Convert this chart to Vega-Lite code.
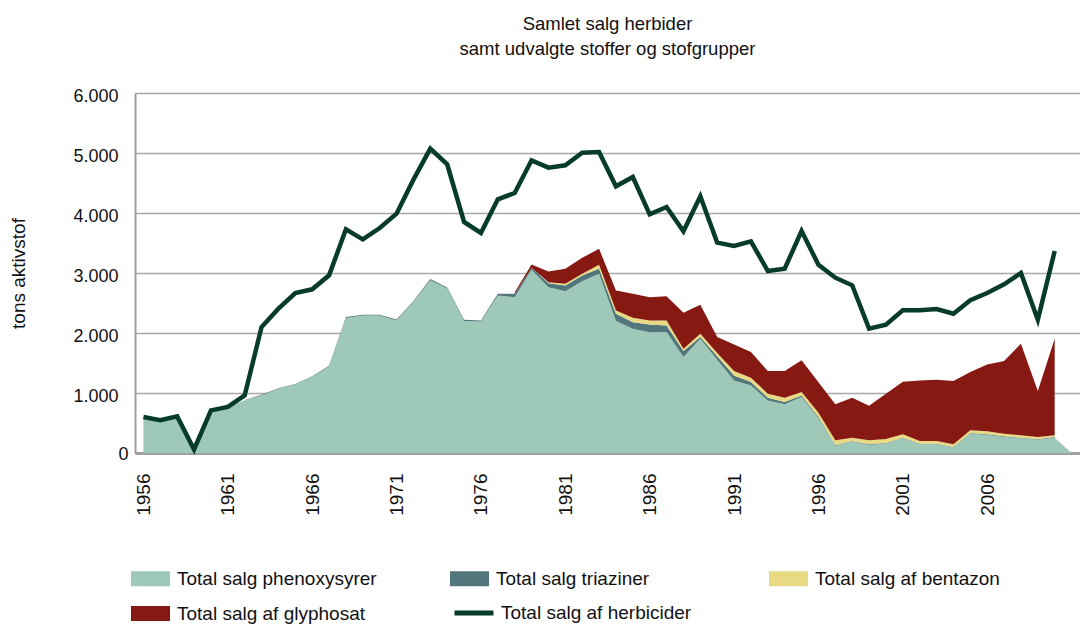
{
  "$schema": "https://vega.github.io/schema/vega-lite/v6.json",
  "autosize": "none",
  "width": 945,
  "height": 360,
  "padding": {"left": 135, "top": 93, "right": 0, "bottom": 171},
  "background": "white",
  "title": {
    "text": ["Samlet salg herbider", "samt udvalgte stoffer og stofgrupper"],
    "fontSize": 18.5,
    "fontWeight": "normal",
    "font": "Liberation Sans",
    "color": "#111111",
    "lineHeight": 25,
    "anchor": "middle",
    "offset": 29
  },
  "config": {
    "view": {"stroke": null},
    "font": "Liberation Sans",
    "legend": {"labelFont": "Liberation Sans", "labelFontSize": 19, "labelColor": "#111111", "padding": 0, "title": null, "labelLimit": 400}
  },
  "datasets": {
    "stoffer": [
      {"year": 1956, "serie": "Total salg phenoxysyrer", "value": 600},
      {"year": 1957, "serie": "Total salg phenoxysyrer", "value": 545},
      {"year": 1958, "serie": "Total salg phenoxysyrer", "value": 610},
      {"year": 1959, "serie": "Total salg phenoxysyrer", "value": 60},
      {"year": 1960, "serie": "Total salg phenoxysyrer", "value": 710},
      {"year": 1961, "serie": "Total salg phenoxysyrer", "value": 765},
      {"year": 1962, "serie": "Total salg phenoxysyrer", "value": 880},
      {"year": 1963, "serie": "Total salg phenoxysyrer", "value": 960},
      {"year": 1964, "serie": "Total salg phenoxysyrer", "value": 1070},
      {"year": 1965, "serie": "Total salg phenoxysyrer", "value": 1140},
      {"year": 1966, "serie": "Total salg phenoxysyrer", "value": 1270},
      {"year": 1967, "serie": "Total salg phenoxysyrer", "value": 1440},
      {"year": 1968, "serie": "Total salg phenoxysyrer", "value": 2250},
      {"year": 1969, "serie": "Total salg phenoxysyrer", "value": 2290},
      {"year": 1970, "serie": "Total salg phenoxysyrer", "value": 2290},
      {"year": 1971, "serie": "Total salg phenoxysyrer", "value": 2210},
      {"year": 1972, "serie": "Total salg phenoxysyrer", "value": 2520},
      {"year": 1973, "serie": "Total salg phenoxysyrer", "value": 2880},
      {"year": 1974, "serie": "Total salg phenoxysyrer", "value": 2740},
      {"year": 1975, "serie": "Total salg phenoxysyrer", "value": 2200},
      {"year": 1976, "serie": "Total salg phenoxysyrer", "value": 2190},
      {"year": 1977, "serie": "Total salg phenoxysyrer", "value": 2625},
      {"year": 1978, "serie": "Total salg phenoxysyrer", "value": 2597},
      {"year": 1979, "serie": "Total salg phenoxysyrer", "value": 3053},
      {"year": 1980, "serie": "Total salg phenoxysyrer", "value": 2764},
      {"year": 1981, "serie": "Total salg phenoxysyrer", "value": 2697},
      {"year": 1982, "serie": "Total salg phenoxysyrer", "value": 2864},
      {"year": 1983, "serie": "Total salg phenoxysyrer", "value": 2987},
      {"year": 1984, "serie": "Total salg phenoxysyrer", "value": 2198},
      {"year": 1985, "serie": "Total salg phenoxysyrer", "value": 2071},
      {"year": 1986, "serie": "Total salg phenoxysyrer", "value": 2014},
      {"year": 1987, "serie": "Total salg phenoxysyrer", "value": 2015},
      {"year": 1988, "serie": "Total salg phenoxysyrer", "value": 1598},
      {"year": 1989, "serie": "Total salg phenoxysyrer", "value": 1905},
      {"year": 1990, "serie": "Total salg phenoxysyrer", "value": 1555},
      {"year": 1991, "serie": "Total salg phenoxysyrer", "value": 1210},
      {"year": 1992, "serie": "Total salg phenoxysyrer", "value": 1127},
      {"year": 1993, "serie": "Total salg phenoxysyrer", "value": 877},
      {"year": 1994, "serie": "Total salg phenoxysyrer", "value": 811},
      {"year": 1995, "serie": "Total salg phenoxysyrer", "value": 932},
      {"year": 1996, "serie": "Total salg phenoxysyrer", "value": 580},
      {"year": 1997, "serie": "Total salg phenoxysyrer", "value": 118},
      {"year": 1998, "serie": "Total salg phenoxysyrer", "value": 190},
      {"year": 1999, "serie": "Total salg phenoxysyrer", "value": 135},
      {"year": 2000, "serie": "Total salg phenoxysyrer", "value": 157},
      {"year": 2001, "serie": "Total salg phenoxysyrer", "value": 246},
      {"year": 2002, "serie": "Total salg phenoxysyrer", "value": 146},
      {"year": 2003, "serie": "Total salg phenoxysyrer", "value": 146},
      {"year": 2004, "serie": "Total salg phenoxysyrer", "value": 90},
      {"year": 2005, "serie": "Total salg phenoxysyrer", "value": 323},
      {"year": 2006, "serie": "Total salg phenoxysyrer", "value": 301},
      {"year": 2007, "serie": "Total salg phenoxysyrer", "value": 268},
      {"year": 2008, "serie": "Total salg phenoxysyrer", "value": 246},
      {"year": 2009, "serie": "Total salg phenoxysyrer", "value": 223},
      {"year": 2010, "serie": "Total salg phenoxysyrer", "value": 256},
      {"year": 2011, "serie": "Total salg phenoxysyrer", "value": 0},
      {"year": 1962, "serie": "Total salg triaziner", "value": 5},
      {"year": 1963, "serie": "Total salg triaziner", "value": 10},
      {"year": 1964, "serie": "Total salg triaziner", "value": 10},
      {"year": 1965, "serie": "Total salg triaziner", "value": 10},
      {"year": 1966, "serie": "Total salg triaziner", "value": 10},
      {"year": 1967, "serie": "Total salg triaziner", "value": 15},
      {"year": 1968, "serie": "Total salg triaziner", "value": 15},
      {"year": 1969, "serie": "Total salg triaziner", "value": 15},
      {"year": 1970, "serie": "Total salg triaziner", "value": 15},
      {"year": 1971, "serie": "Total salg triaziner", "value": 15},
      {"year": 1972, "serie": "Total salg triaziner", "value": 15},
      {"year": 1973, "serie": "Total salg triaziner", "value": 20},
      {"year": 1974, "serie": "Total salg triaziner", "value": 20},
      {"year": 1975, "serie": "Total salg triaziner", "value": 20},
      {"year": 1976, "serie": "Total salg triaziner", "value": 20},
      {"year": 1977, "serie": "Total salg triaziner", "value": 28},
      {"year": 1978, "serie": "Total salg triaziner", "value": 56},
      {"year": 1979, "serie": "Total salg triaziner", "value": 33},
      {"year": 1980, "serie": "Total salg triaziner", "value": 66},
      {"year": 1981, "serie": "Total salg triaziner", "value": 94},
      {"year": 1982, "serie": "Total salg triaziner", "value": 94},
      {"year": 1983, "serie": "Total salg triaziner", "value": 83},
      {"year": 1984, "serie": "Total salg triaziner", "value": 122},
      {"year": 1985, "serie": "Total salg triaziner", "value": 110},
      {"year": 1986, "serie": "Total salg triaziner", "value": 128},
      {"year": 1987, "serie": "Total salg triaziner", "value": 111},
      {"year": 1988, "serie": "Total salg triaziner", "value": 100},
      {"year": 1989, "serie": "Total salg triaziner", "value": 28},
      {"year": 1990, "serie": "Total salg triaziner", "value": 56},
      {"year": 1991, "serie": "Total salg triaziner", "value": 83},
      {"year": 1992, "serie": "Total salg triaziner", "value": 55},
      {"year": 1993, "serie": "Total salg triaziner", "value": 44},
      {"year": 1994, "serie": "Total salg triaziner", "value": 39},
      {"year": 1995, "serie": "Total salg triaziner", "value": 28},
      {"year": 1996, "serie": "Total salg triaziner", "value": 20},
      {"year": 1997, "serie": "Total salg triaziner", "value": 10},
      {"year": 1998, "serie": "Total salg triaziner", "value": 10},
      {"year": 1999, "serie": "Total salg triaziner", "value": 10},
      {"year": 2000, "serie": "Total salg triaziner", "value": 10},
      {"year": 2001, "serie": "Total salg triaziner", "value": 10},
      {"year": 2002, "serie": "Total salg triaziner", "value": 10},
      {"year": 2003, "serie": "Total salg triaziner", "value": 10},
      {"year": 2004, "serie": "Total salg triaziner", "value": 10},
      {"year": 2005, "serie": "Total salg triaziner", "value": 10},
      {"year": 2006, "serie": "Total salg triaziner", "value": 10},
      {"year": 2007, "serie": "Total salg triaziner", "value": 10},
      {"year": 2008, "serie": "Total salg triaziner", "value": 10},
      {"year": 2009, "serie": "Total salg triaziner", "value": 10},
      {"year": 2010, "serie": "Total salg triaziner", "value": 10},
      {"year": 1980, "serie": "Total salg af bentazon", "value": 17},
      {"year": 1981, "serie": "Total salg af bentazon", "value": 28},
      {"year": 1982, "serie": "Total salg af bentazon", "value": 28},
      {"year": 1983, "serie": "Total salg af bentazon", "value": 66},
      {"year": 1984, "serie": "Total salg af bentazon", "value": 55},
      {"year": 1985, "serie": "Total salg af bentazon", "value": 72},
      {"year": 1986, "serie": "Total salg af bentazon", "value": 66},
      {"year": 1987, "serie": "Total salg af bentazon", "value": 83},
      {"year": 1988, "serie": "Total salg af bentazon", "value": 39},
      {"year": 1989, "serie": "Total salg af bentazon", "value": 56},
      {"year": 1990, "serie": "Total salg af bentazon", "value": 55},
      {"year": 1991, "serie": "Total salg af bentazon", "value": 72},
      {"year": 1992, "serie": "Total salg af bentazon", "value": 72},
      {"year": 1993, "serie": "Total salg af bentazon", "value": 67},
      {"year": 1994, "serie": "Total salg af bentazon", "value": 72},
      {"year": 1995, "serie": "Total salg af bentazon", "value": 56},
      {"year": 1996, "serie": "Total salg af bentazon", "value": 70},
      {"year": 1997, "serie": "Total salg af bentazon", "value": 83},
      {"year": 1998, "serie": "Total salg af bentazon", "value": 56},
      {"year": 1999, "serie": "Total salg af bentazon", "value": 67},
      {"year": 2000, "serie": "Total salg af bentazon", "value": 66},
      {"year": 2001, "serie": "Total salg af bentazon", "value": 55},
      {"year": 2002, "serie": "Total salg af bentazon", "value": 44},
      {"year": 2003, "serie": "Total salg af bentazon", "value": 44},
      {"year": 2004, "serie": "Total salg af bentazon", "value": 45},
      {"year": 2005, "serie": "Total salg af bentazon", "value": 45},
      {"year": 2006, "serie": "Total salg af bentazon", "value": 50},
      {"year": 2007, "serie": "Total salg af bentazon", "value": 44},
      {"year": 2008, "serie": "Total salg af bentazon", "value": 39},
      {"year": 2009, "serie": "Total salg af bentazon", "value": 33},
      {"year": 2010, "serie": "Total salg af bentazon", "value": 29},
      {"year": 1978, "serie": "Total salg af glyphosat", "value": 28},
      {"year": 1979, "serie": "Total salg af glyphosat", "value": 56},
      {"year": 1980, "serie": "Total salg af glyphosat", "value": 178},
      {"year": 1981, "serie": "Total salg af glyphosat", "value": 250},
      {"year": 1982, "serie": "Total salg af glyphosat", "value": 267},
      {"year": 1983, "serie": "Total salg af glyphosat", "value": 267},
      {"year": 1984, "serie": "Total salg af glyphosat", "value": 333},
      {"year": 1985, "serie": "Total salg af glyphosat", "value": 400},
      {"year": 1986, "serie": "Total salg af glyphosat", "value": 389},
      {"year": 1987, "serie": "Total salg af glyphosat", "value": 405},
      {"year": 1988, "serie": "Total salg af glyphosat", "value": 599},
      {"year": 1989, "serie": "Total salg af glyphosat", "value": 481},
      {"year": 1990, "serie": "Total salg af glyphosat", "value": 266},
      {"year": 1991, "serie": "Total salg af glyphosat", "value": 445},
      {"year": 1992, "serie": "Total salg af glyphosat", "value": 428},
      {"year": 1993, "serie": "Total salg af glyphosat", "value": 378},
      {"year": 1994, "serie": "Total salg af glyphosat", "value": 444},
      {"year": 1995, "serie": "Total salg af glyphosat", "value": 528},
      {"year": 1996, "serie": "Total salg af glyphosat", "value": 510},
      {"year": 1997, "serie": "Total salg af glyphosat", "value": 600},
      {"year": 1998, "serie": "Total salg af glyphosat", "value": 666},
      {"year": 1999, "serie": "Total salg af glyphosat", "value": 577},
      {"year": 2000, "serie": "Total salg af glyphosat", "value": 756},
      {"year": 2001, "serie": "Total salg af glyphosat", "value": 877},
      {"year": 2002, "serie": "Total salg af glyphosat", "value": 1010},
      {"year": 2003, "serie": "Total salg af glyphosat", "value": 1021},
      {"year": 2004, "serie": "Total salg af glyphosat", "value": 1054},
      {"year": 2005, "serie": "Total salg af glyphosat", "value": 971},
      {"year": 2006, "serie": "Total salg af glyphosat", "value": 1116},
      {"year": 2007, "serie": "Total salg af glyphosat", "value": 1210},
      {"year": 2008, "serie": "Total salg af glyphosat", "value": 1526},
      {"year": 2009, "serie": "Total salg af glyphosat", "value": 766},
      {"year": 2010, "serie": "Total salg af glyphosat", "value": 1609}
    ],
    "total": [
      {"year": 1956, "total": 600}, {"year": 1957, "total": 545}, {"year": 1958, "total": 610},
      {"year": 1959, "total": 60}, {"year": 1960, "total": 710}, {"year": 1961, "total": 767},
      {"year": 1962, "total": 960}, {"year": 1963, "total": 2100}, {"year": 1964, "total": 2406},
      {"year": 1965, "total": 2667}, {"year": 1966, "total": 2728}, {"year": 1967, "total": 2961},
      {"year": 1968, "total": 3728}, {"year": 1969, "total": 3561}, {"year": 1970, "total": 3750},
      {"year": 1971, "total": 3989}, {"year": 1972, "total": 4556}, {"year": 1973, "total": 5072},
      {"year": 1974, "total": 4811}, {"year": 1975, "total": 3850}, {"year": 1976, "total": 3667},
      {"year": 1977, "total": 4228}, {"year": 1978, "total": 4333}, {"year": 1979, "total": 4878},
      {"year": 1980, "total": 4756}, {"year": 1981, "total": 4795}, {"year": 1982, "total": 5006},
      {"year": 1983, "total": 5017}, {"year": 1984, "total": 4445}, {"year": 1985, "total": 4600},
      {"year": 1986, "total": 3978}, {"year": 1987, "total": 4100}, {"year": 1988, "total": 3695},
      {"year": 1989, "total": 4278}, {"year": 1990, "total": 3506}, {"year": 1991, "total": 3450},
      {"year": 1992, "total": 3528}, {"year": 1993, "total": 3033}, {"year": 1994, "total": 3072},
      {"year": 1995, "total": 3700}, {"year": 1996, "total": 3139}, {"year": 1997, "total": 2922},
      {"year": 1998, "total": 2795}, {"year": 1999, "total": 2072}, {"year": 2000, "total": 2139},
      {"year": 2001, "total": 2378}, {"year": 2002, "total": 2378}, {"year": 2003, "total": 2400},
      {"year": 2004, "total": 2322}, {"year": 2005, "total": 2545}, {"year": 2006, "total": 2667},
      {"year": 2007, "total": 2811}, {"year": 2008, "total": 3000}, {"year": 2009, "total": 2222},
      {"year": 2010, "total": 3367}
    ]
  },
  "encoding": {
    "x": {
      "field": "year",
      "type": "ordinal",
      "scale": {"type": "point", "padding": 0.5},
      "axis": {
        "title": null,
        "values": [1956, 1961, 1966, 1971, 1976, 1981, 1986, 1991, 1996, 2001, 2006],
        "labelAngle": -90,
        "labelFontSize": 19,
        "labelColor": "#111111",
        "labelPadding": 20,
        "ticks": false,
        "domainColor": "#A0A0A0",
        "domainWidth": 3,
        "grid": false
      }
    }
  },
  "layer": [
    {
      "data": {"name": "stoffer"},
      "transform": [
        {"calculate": "indexof(['Total salg phenoxysyrer', 'Total salg triaziner', 'Total salg af bentazon', 'Total salg af glyphosat'], datum.serie)", "as": "stackorder"}
      ],
      "mark": {"type": "area", "interpolate": "linear"},
      "encoding": {
        "y": {
          "field": "value",
          "type": "quantitative",
          "stack": "zero",
          "impute": null,
          "scale": {"domain": [0, 6000], "nice": false},
          "axis": {
            "title": "tons aktivstof",
            "titleFontSize": 19,
            "titleFontWeight": "normal",
            "titleColor": "#111111",
            "titlePadding": 44,
            "values": [0, 1000, 2000, 3000, 4000, 5000, 6000],
            "labelExpr": "replace(format(datum.value, ','), ',', '.')",
            "labelFontSize": 18,
            "labelColor": "#111111",
            "labelPadding": 17,
            "labelOffset": {"condition": {"test": "datum.value == 0", "value": 1}, "value": 3},
            "labelAlign": {"condition": {"test": "datum.value == 0", "value": "left"}, "value": "right"},
            "ticks": false,
            "domainColor": "#A0A0A0",
            "domainWidth": 2,
            "gridColor": "#A8A8A8",
            "gridWidth": 1.5
          }
        },
        "order": {"field": "stackorder", "type": "quantitative", "sort": "ascending"},
        "fill": {
          "field": "serie",
          "type": "nominal",
          "scale": {
            "domain": ["Total salg phenoxysyrer", "Total salg triaziner", "Total salg af bentazon", "Total salg af glyphosat"],
            "range": ["#9EC8B8", "#51767B", "#E8D983", "#861912"]
          },
          "legend": {
            "orient": "none",
            "direction": "horizontal",
            "legendX": -4,
            "legendY": 466,
            "columns": 3,
            "gridAlign": "all",
            "columnPadding": 73,
            "rowPadding": 5,
            "symbolType": "M-1,-0.385H1V0.385H-1Z",
            "symbolSize": 1521,
            "symbolStrokeWidth": 0,
            "symbolOpacity": 1,
            "labelOffset": 7
          }
        }
      }
    },
    {
      "data": {"name": "total"},
      "mark": {"type": "line", "strokeWidth": 4.5, "strokeJoin": "miter"},
      "encoding": {
        "y": {"field": "total", "type": "quantitative"},
        "stroke": {
          "datum": "Total salg af herbicider",
          "type": "nominal",
          "scale": {"range": ["#073B2C"]},
          "legend": {
            "orient": "none",
            "legendX": 317,
            "legendY": 498,
            "symbolType": "stroke",
            "symbolSize": 1521,
            "symbolStrokeWidth": 5,
            "labelOffset": 5
          }
        }
      }
    }
  ]
}
